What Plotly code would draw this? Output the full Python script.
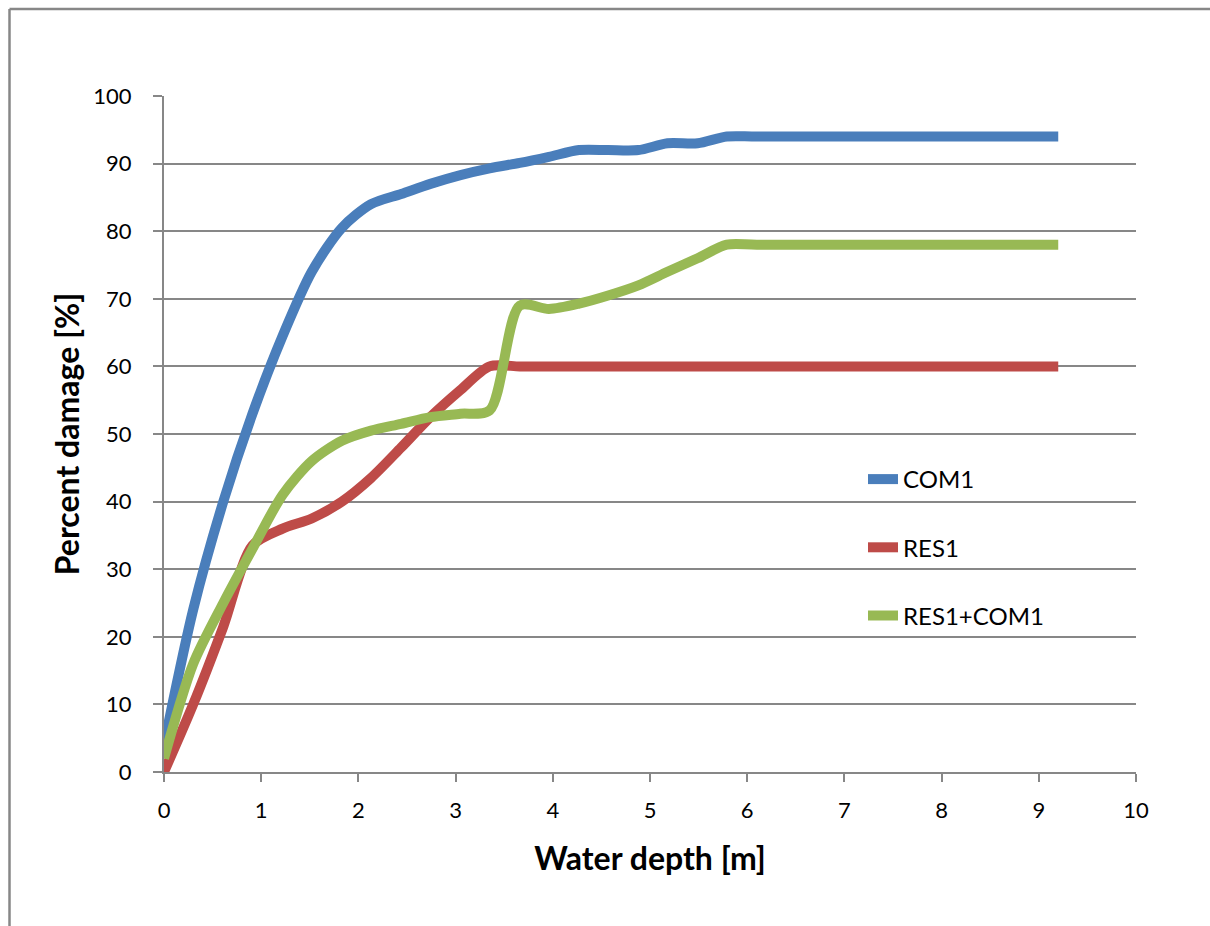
import plotly.graph_objects as go

# Water depth in metres (1 ft steps)
depth_m = [0.0, 0.30, 0.61, 0.91, 1.22, 1.52, 1.83, 2.13, 2.44, 2.74, 3.05,
           3.35, 3.66, 3.96, 4.27, 4.57, 4.88, 5.18, 5.49, 5.79, 6.10, 9.20]

com1 = [4, 24, 40, 53, 64.5, 74, 80.5, 84, 85.5, 87, 88.3,
        89.3, 90.1, 91, 92, 92, 92, 93, 93, 94, 94, 94]
res1 = [0, 10, 21.5, 33.5, 36, 37.5, 40, 43.5, 48, 52.5, 56.5,
        60, 60, 60, 60, 60, 60, 60, 60, 60, 60, 60]
res1_com1 = [2, 16, 25, 33, 41, 46, 49, 50.5, 51.5, 52.5, 53,
             53.5, 69, 68.5, 69.3, 70.5, 72, 74, 76, 78, 78, 78]

series_names = ["COM1", "RES1", "RES1+COM1"]
series_values = [com1, res1, res1_com1]
series_colors = ["#4A7EBB", "#BE4B48", "#98B954"]

x_ticks = list(range(0, 11))
y_ticks = list(range(0, 101, 10))

FONT = "Lato"
GRID = "#878787"

fig = go.Figure()
for i, (name, vals, col) in enumerate(zip(series_names, series_values, series_colors)):
    fig.add_trace(go.Scatter(
        x=depth_m, y=vals, name=name, mode="lines",
        line=dict(color=col, width=10, shape="spline", smoothing=0.8),
        legendgroup=f"g{i}",
    ))

L, R, T, B = 164, 74, 96, 154
W, H = 1210, 926
pw, ph = W - L - R, H - T - B

def px_to_paper_x(px):
    return (px - L) / pw

def px_to_paper_y(py):
    return (H - B - py) / ph

border = dict(color=GRID, width=2.5)

fig.update_layout(
    width=W, height=H,
    margin=dict(l=L, r=R, t=T, b=B, pad=0),
    paper_bgcolor="white", plot_bgcolor="white",
    font=dict(family=FONT, color="black"),
    showlegend=True,
    legend=dict(
        x=px_to_paper_x(863), y=px_to_paper_y(457), xanchor="left", yanchor="top",
        font=dict(size=24, family=FONT, color="black"),
        tracegroupgap=34, bgcolor="rgba(0,0,0,0)",
    ),
    xaxis=dict(
        range=[0, 10], tickvals=x_ticks, ticktext=[str(v) for v in x_ticks],
        showgrid=False, zeroline=False,
        showline=True, linecolor=GRID, linewidth=2,
        ticks="outside", ticklen=8, tickwidth=2, tickcolor=GRID,
        tickfont=dict(size=22, family=FONT, color="black"),
        ticklabelstandoff=10,
        title=dict(text="<b>Water depth [m]</b>", font=dict(size=32, family=FONT, color="black"),
                   standoff=25),
    ),
    yaxis=dict(
        range=[0, 100], tickvals=y_ticks, ticktext=[str(v) for v in y_ticks],
        showgrid=True, gridcolor=GRID, gridwidth=2, zeroline=False,
        showline=True, linecolor=GRID, linewidth=2,
        ticks="outside", ticklen=9, tickwidth=2, tickcolor=GRID,
        tickfont=dict(size=22, family=FONT, color="black"),
        ticklabelstandoff=17,
        title=dict(text="<b>Percent damage [%]</b>", font=dict(size=32, family=FONT, color="black"),
                   standoff=4),
    ),
    shapes=[
        dict(type="line", xref="paper", yref="paper",
             x0=px_to_paper_x(9.5), x1=px_to_paper_x(1260),
             y0=px_to_paper_y(9), y1=px_to_paper_y(9), line=border, layer="below"),
        dict(type="line", xref="paper", yref="paper",
             x0=px_to_paper_x(9.5), x1=px_to_paper_x(9.5),
             y0=px_to_paper_y(9), y1=px_to_paper_y(1000), line=border, layer="below"),
    ],
)

fig.write_html("out.html")
